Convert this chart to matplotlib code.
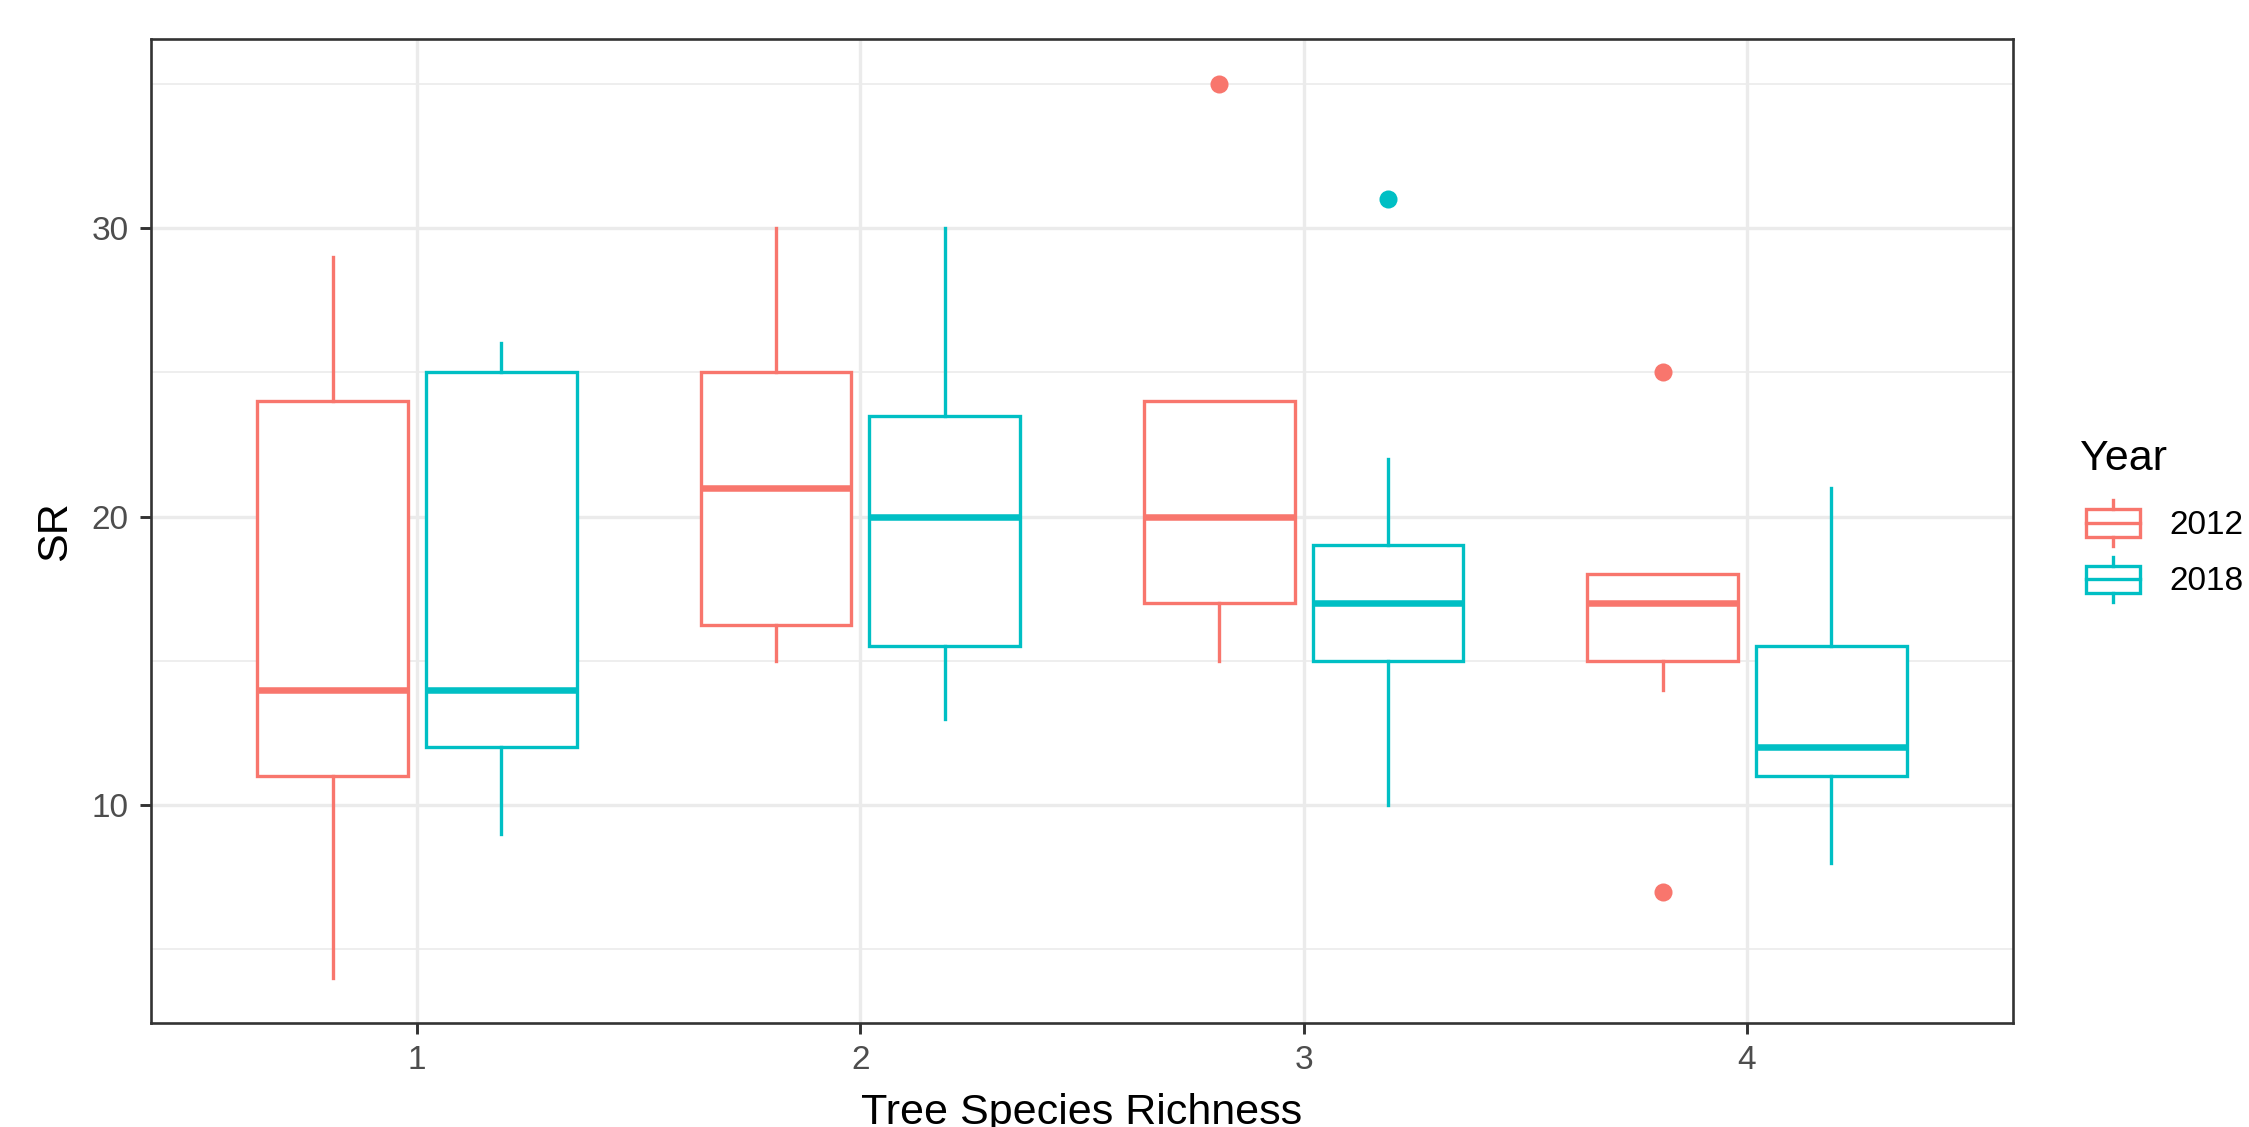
import matplotlib
matplotlib.use("Agg")
import matplotlib.pyplot as plt
from matplotlib.patches import Rectangle, Patch
from matplotlib.lines import Line2D
from matplotlib.legend_handler import HandlerBase
from matplotlib.ticker import MultipleLocator

plt.rcParams['font.family'] = ['Liberation Sans', 'DejaVu Sans']

# data (SR by tree species richness and year)
richness = [1, 2, 3, 4]
years = ['2012', '2018']
colors = ['#F8766D', '#00BFC4']

med_2012 = [14, 21, 20, 17]
q1_2012 = [11, 16.25, 17, 15]
q3_2012 = [24, 25, 24, 18]
lo_2012 = [4, 15, 15, 14]
hi_2012 = [29, 30, 24, 18]
out_2012 = [[], [], [35], [25, 7]]

med_2018 = [14, 20, 17, 12]
q1_2018 = [12, 15.5, 15, 11]
q3_2018 = [25, 23.5, 19, 15.5]
lo_2018 = [9, 13, 10, 8]
hi_2018 = [26, 30, 22, 21]
out_2018 = [[], [], [31], []]

series = [
    (med_2012, q1_2012, q3_2012, lo_2012, hi_2012, out_2012),
    (med_2018, q1_2018, q3_2018, lo_2018, hi_2018, out_2018),
]

W, H = 2249, 1127
fig = plt.figure(figsize=(W / 100, H / 100), dpi=100)
ax = fig.add_axes([151 / W, 1 - 1023 / H, (2013 - 151) / W, (1023 - 39) / H])

box_lw = 2.4
offsets = [-0.19, 0.19]
for (med, q1, q3, lo, hi, out), off, c in zip(series, offsets, colors):
    stats = []
    for i in range(len(richness)):
        stats.append({'med': med[i], 'q1': q1[i], 'q3': q3[i],
                      'whislo': lo[i], 'whishi': hi[i], 'fliers': out[i]})
    ax.bxp(stats, positions=[r + off for r in richness], widths=0.34,
           showcaps=False, patch_artist=True, manage_ticks=False,
           boxprops=dict(facecolor='white', edgecolor=c, linewidth=box_lw),
           whiskerprops=dict(color=c, linewidth=box_lw),
           medianprops=dict(color=c, linewidth=4.7, solid_capstyle='butt'),
           flierprops=dict(marker='o', markerfacecolor=c, markeredgecolor='none',
                           markersize=13),
           zorder=3)

ax.set_xlim(0.4, 4.6)
ax.set_ylim(2.45, 36.55)
ax.set_xticks(richness)
ax.set_xticklabels([str(r) for r in richness])
ax.yaxis.set_major_locator(MultipleLocator(10))
ax.yaxis.set_minor_locator(MultipleLocator(5))
ax.set_yticks([10, 20, 30])

ax.grid(True, which='major', color='#EBEBEB', linewidth=2.4, zorder=0)
ax.grid(True, which='minor', axis='y', color='#EBEBEB', linewidth=1.2, zorder=0)
ax.set_axisbelow(True)
ax.tick_params(which='major', length=8, width=2.1, color='#333333',
               labelsize=24, labelcolor='#4D4D4D', pad=8)
ax.tick_params(which='minor', length=0)
for s in ax.spines.values():
    s.set_color('#333333')
    s.set_linewidth(1.9)

ax.set_xlabel('Tree Species Richness', fontsize=31, color='black')
ax.xaxis.label.set_va('baseline')
ax.xaxis.set_label_coords(0.5, -(1124 - 1023) / 984)
ax.set_ylabel('SR', fontsize=31, color='black')
ax.yaxis.label.set_va('center')
ax.yaxis.set_label_coords(-(151 - 55) / 1862, 0.5)


class BoxKey(HandlerBase):
    def create_artists(self, legend, orig_handle, xdescent, ydescent,
                       width, height, fontsize, trans):
        c = orig_handle.get_edgecolor()
        x0, y0 = -xdescent, -ydescent
        kw = dict(color=c, linewidth=box_lw, transform=trans)
        box = Rectangle((x0, y0 + 0.193 * height), width, 0.614 * height,
                        fill=False, edgecolor=c, linewidth=box_lw, transform=trans)
        mid = Line2D([x0, x0 + width], [y0 + 0.5 * height] * 2, **kw)
        w1 = Line2D([x0 + width / 2] * 2, [y0, y0 + 0.193 * height], **kw)
        w2 = Line2D([x0 + width / 2] * 2, [y0 + 0.807 * height, y0 + height], **kw)
        return [box, mid, w1, w2]


handles = [Patch(edgecolor=c, facecolor='white') for c in colors]
fs = 24
fig.legend(handles, years, handler_map={Patch: BoxKey()},
           loc='upper left', bbox_to_anchor=(2086 / W, 1 - 500 / H),
           frameon=False, fontsize=fs, borderpad=0, borderaxespad=0,
           handlelength=53 / 33, handleheight=57 / 33,
           handletextpad=30 / 33, labelspacing=11 / 33)
fig.text(2080 / W, 1 - 470 / H, 'Year', fontsize=31, va='baseline', ha='left')

fig.savefig('out.png', dpi=100, facecolor='white')
